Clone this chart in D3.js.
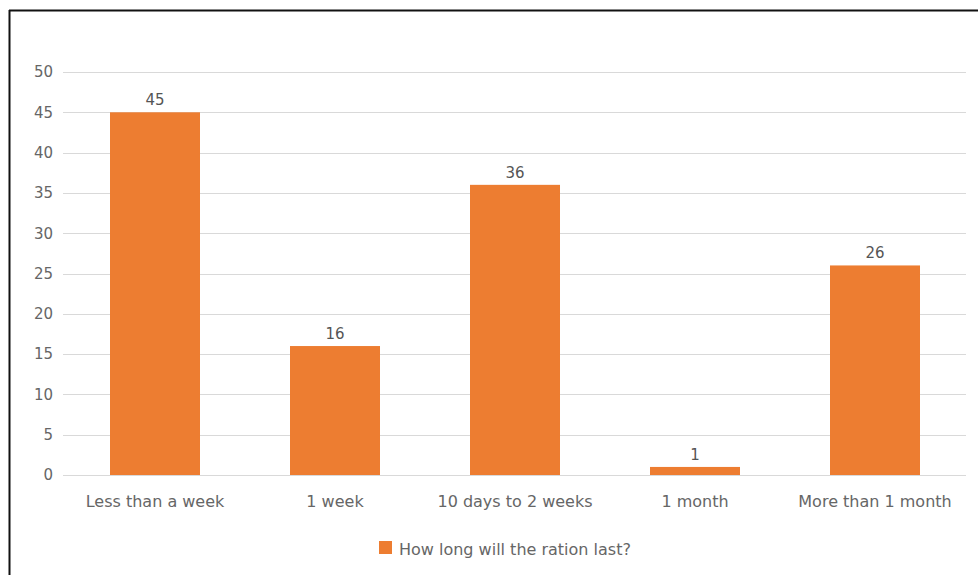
<!DOCTYPE html>
<html><head><meta charset="utf-8">
<script src="https://cdn.jsdelivr.net/npm/d3@7"></script>
<style>body{margin:0;background:#fff;}svg{display:block;}</style>
</head><body>
<svg id="c" width="978" height="575"></svg>
<script>
const categories = ["Less than a week","1 week","10 days to 2 weeks","1 month","More than 1 month"];
const values = [45,16,36,1,26];
const yTicks = [0,5,10,15,20,25,30,35,40,45,50];
const legendLabel = "How long will the ration last?";

const svg = d3.select("#c");
const font = "'DejaVu Sans', 'Open Sans', sans-serif";
const textColor = "#666666";
const barColor = "#ED7D31";

// border (top and left visible)
svg.append("line").attr("x1",9).attr("x2",978).attr("y1",10.5).attr("y2",10.5).attr("stroke","#111").attr("stroke-width",2);
svg.append("line").attr("x1",9.5).attr("x2",9.5).attr("y1",10).attr("y2",575).attr("stroke","#111").attr("stroke-width",2);

const x = d3.scaleBand().domain(categories).range([65,965]).paddingInner(0.5).paddingOuter(0.25);
const y = d3.scaleLinear().domain([0,50]).range([475,72]);

const grid = svg.append("g");
grid.selectAll("line").data(yTicks).enter().append("line")
  .attr("x1",63).attr("x2",966)
  .attr("y1",d=>Math.round(y(d))+0.5).attr("y2",d=>Math.round(y(d))+0.5)
  .attr("stroke","#d9d9d9").attr("stroke-width",1);

const yAxis = d3.axisLeft(y).tickValues(yTicks).tickSize(0).tickPadding(0);
const ya = svg.append("g").attr("transform","translate(53,0)").call(yAxis);
ya.select(".domain").remove();
ya.selectAll("text").attr("fill",textColor).style("font-family",font).style("font-size","15px");

const xAxis = d3.axisBottom(x).tickSize(0).tickPadding(0);
const xa = svg.append("g").attr("transform","translate(0,507)").call(xAxis);
xa.select(".domain").remove();
xa.selectAll("text").attr("fill",textColor).style("font-family",font).style("font-size","16px").attr("y",0).attr("dy","0");

svg.append("g").selectAll("rect").data(values).enter().append("rect")
  .attr("x",(d,i)=>x(categories[i])).attr("width",x.bandwidth())
  .attr("y",d=>y(d)).attr("height",d=>y(0)-y(d)).attr("fill",barColor);

svg.append("g").selectAll("text").data(values).enter().append("text")
  .attr("x",(d,i)=>x(categories[i])+x.bandwidth()/2).attr("y",d=>y(d)-7)
  .attr("text-anchor","middle").attr("fill","#555555")
  .style("font-family",font).style("font-size","15px").text(d=>d);

const lg = svg.append("g").attr("transform","translate(379,541)");
lg.append("rect").attr("width",13).attr("height",13).attr("fill",barColor);
lg.append("text").attr("x",20).attr("y",14).attr("fill",textColor)
  .style("font-family",font).style("font-size","16px").text(legendLabel);
</script>
</body></html>
